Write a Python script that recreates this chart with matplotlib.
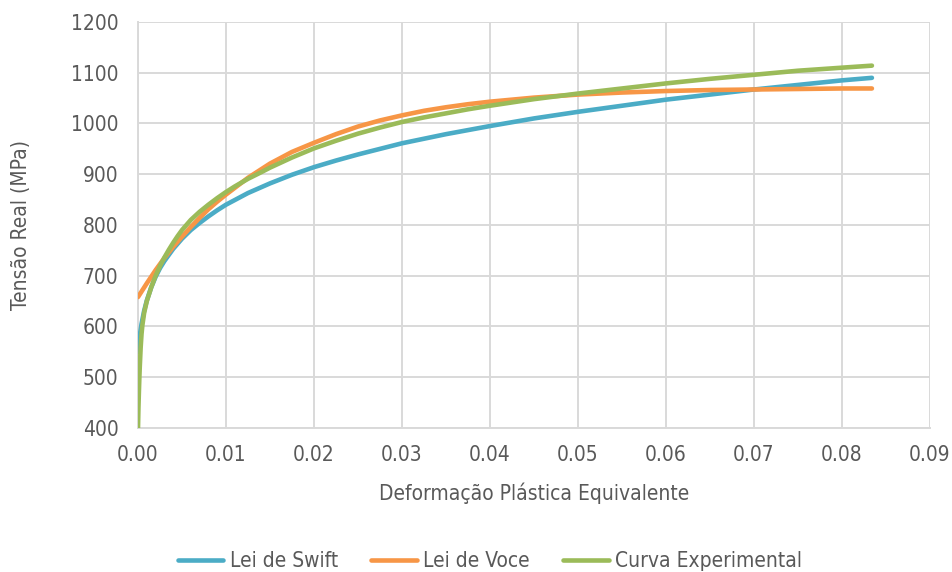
import matplotlib
matplotlib.use("Agg")
import matplotlib.pyplot as plt
from matplotlib.lines import Line2D

# Swift hardening law
swift_strain = [0.0, 0.0001, 0.0002, 0.0004, 0.0007, 0.001, 0.0015, 0.002, 0.0025,
                0.003, 0.004, 0.005, 0.006, 0.007, 0.008, 0.009, 0.010, 0.0125,
                0.015, 0.0175, 0.020, 0.0225, 0.025, 0.0275, 0.030, 0.035, 0.040,
                0.045, 0.050, 0.055, 0.060, 0.065, 0.070, 0.075, 0.080, 0.0834]
swift_stress = [550, 567, 582, 605, 631, 651, 677, 698, 715,
                729, 753, 773, 790, 804, 817, 829, 840, 863,
                882, 899, 914, 927, 939, 950, 961, 979, 995,
                1010, 1023, 1035, 1047, 1057, 1067, 1076, 1085, 1090]

# Voce hardening law
voce_strain = [0.0, 0.001, 0.002, 0.003, 0.004, 0.005, 0.006, 0.007, 0.008,
               0.009, 0.010, 0.0125, 0.015, 0.0175, 0.020, 0.0225, 0.025, 0.0275,
               0.030, 0.0325, 0.035, 0.0375, 0.040, 0.045, 0.050, 0.055, 0.060,
               0.065, 0.070, 0.075, 0.080, 0.0834]
voce_stress = [658, 685, 711, 735, 757, 777, 796, 814, 831,
               846, 860, 893, 921, 944, 962, 979, 994, 1006,
               1016, 1025, 1032, 1038, 1043, 1051, 1057, 1061, 1064,
               1066, 1067, 1068, 1069, 1069]

# Experimental flow curve
exp_strain = [0.0, 0.00005, 0.0001, 0.00015, 0.0002, 0.0003, 0.0004, 0.0005, 0.0007,
              0.001, 0.0015, 0.002, 0.0025, 0.003, 0.0035, 0.004, 0.0045, 0.005,
              0.006, 0.007, 0.008, 0.009, 0.010, 0.011, 0.0125, 0.014, 0.015,
              0.0175, 0.020, 0.0225, 0.025, 0.0275, 0.030, 0.0325, 0.035, 0.0375,
              0.040, 0.045, 0.050, 0.055, 0.060, 0.065, 0.070, 0.075, 0.080, 0.0834]
exp_stress = [400, 440, 470, 497, 520, 558, 585, 603, 627,
              650, 677, 700, 719, 736, 751, 765, 778, 790,
              810, 826, 840, 853, 865, 876, 891, 904, 913,
              933, 951, 966, 980, 992, 1003, 1012, 1020, 1028,
              1035, 1048, 1059, 1069, 1079, 1088, 1096, 1104, 1110, 1114]

x_ticks = [0.00, 0.01, 0.02, 0.03, 0.04, 0.05, 0.06, 0.07, 0.08, 0.09]
y_ticks = [400, 500, 600, 700, 800, 900, 1000, 1100, 1200]

labels = ["Lei de Swift", "Lei de Voce", "Curva Experimental"]
colors = ["#4BACC6", "#F79646", "#9BBB59"]

plt.rcParams["font.family"] = ["DejaVu Sans"]
plt.rcParams["font.stretch"] = "condensed"
text_color = "#595959"
grid_color = "#D9D9D9"

fig = plt.figure(figsize=(9.53, 5.72), dpi=100)
ax = fig.add_axes([138 / 953, 1 - 428 / 572, (930 - 138) / 953, (428 - 22) / 572])

series = [(swift_strain, swift_stress), (voce_strain, voce_stress), (exp_strain, exp_stress)]
for (xs, ys), lab, col in zip(series, labels, colors):
    ax.plot(xs, ys, color=col, lw=3.3, solid_capstyle="round",
            solid_joinstyle="round", label=lab, zorder=3)

ax.set_xlim(0, 0.09)
ax.set_ylim(400, 1200)
ax.set_xticks(x_ticks)
ax.set_xticklabels([f"{v:.2f}" for v in x_ticks])
ax.set_yticks(y_ticks)
ax.set_yticklabels([str(v) for v in y_ticks])
ax.grid(True, color=grid_color, lw=1.4, zorder=0)
ax.set_axisbelow(True)
for side in ["top", "right"]:
    ax.spines[side].set_visible(False)
for side in ["left", "bottom"]:
    ax.spines[side].set_color(grid_color)
    ax.spines[side].set_linewidth(1.4)
ax.tick_params(length=0, labelsize=15, colors=text_color)
ax.tick_params(axis="x", pad=12)
ax.tick_params(axis="y", pad=14)

ax.set_xlabel("Deformação Plástica Equivalente", fontsize=15, color=text_color, labelpad=13)
ax.set_ylabel("Tensão Real (MPa)", fontsize=15, color=text_color, labelpad=29)

handles = [Line2D([0], [0], color=c, lw=3.3, solid_capstyle="round") for c in colors]
leg = fig.legend(handles, labels, loc="center", bbox_to_anchor=(490 / 953, 1 - 561 / 572),
                 ncol=3, frameon=False, fontsize=15, handlelength=2.2,
                 handletextpad=0.3, columnspacing=1.6)
for t in leg.get_texts():
    t.set_color(text_color)

fig.savefig("out.png", dpi=100)
